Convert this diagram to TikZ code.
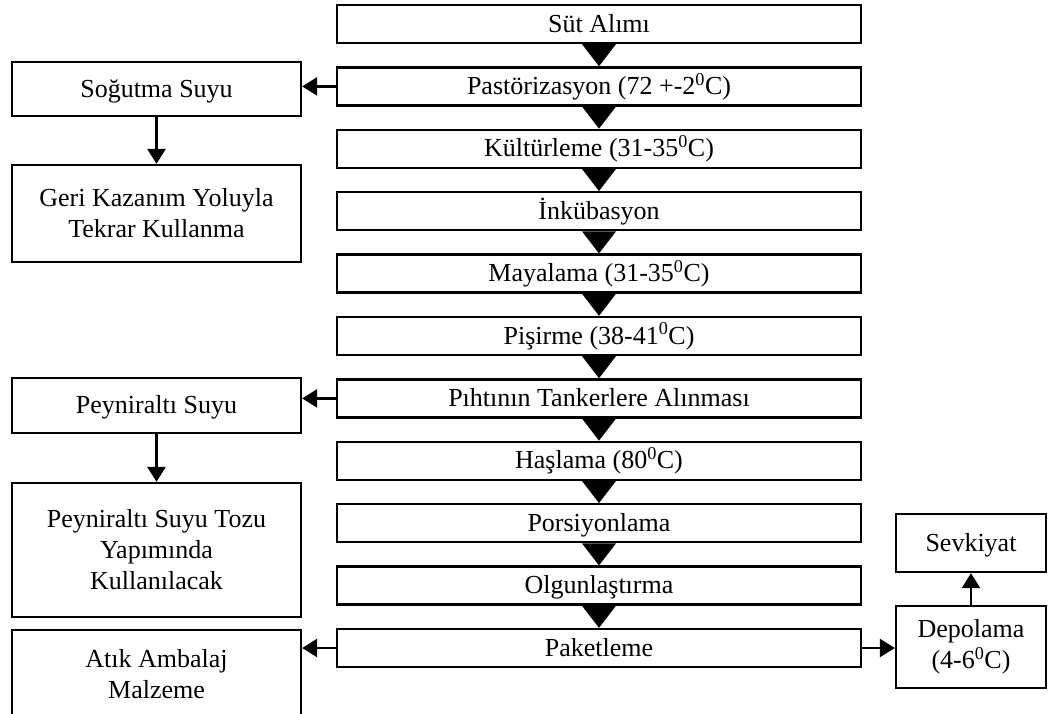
\documentclass[tikz,border=0pt]{standalone}
\usepackage{fontspec}
\setmainfont{Liberation Serif}
\usetikzlibrary{arrows.meta,calc}
\newcommand{\akis}[2]{\fill ($(#1.south)+(-17,0)$) -- ($(#1.south)+(17,0)$) -- (#2.north) -- cycle;}

\begin{document}
\begin{tikzpicture}[x=1pt,y=-1pt,font=\fontsize{26}{31}\selectfont,
  b/.style={draw,line width=2.3pt,inner sep=0pt,align=center},
  s/.style={text height=17pt,text depth=1pt},
  m/.style={b,s,minimum width=524pt,minimum height=38pt},
  l/.style={b,minimum width=289pt},
  r/.style={b,minimum width=150pt},
  e/.style={line width=2.6pt,-{Triangle[length=15pt,width=18pt]}}]
  \useasboundingbox (0,0) rectangle (1049,713);
  \clip (0,0) rectangle (1049,713);
  \node[m] (sut) at (599,24) {Süt Alımı};
  \node[m] (pas) at (599,86.4) {Pastörizasyon (72 +-2\textsuperscript{0}C)};
  \node[m] (kul) at (599,148.8) {Kültürleme (31-35\textsuperscript{0}C)};
  \node[m] (ink) at (599,211.2) {İnkübasyon};
  \node[m] (may) at (599,273.6) {Mayalama (31-35\textsuperscript{0}C)};
  \node[m] (pis) at (599,336) {Pişirme (38-41\textsuperscript{0}C)};
  \node[m] (pih) at (599,398.4) {Pıhtının Tankerlere Alınması};
  \node[m] (has) at (599,460.8) {Haşlama (80\textsuperscript{0}C)};
  \node[m] (por) at (599,523.2) {Porsiyonlama};
  \node[m] (olg) at (599,585.6) {Olgunlaştırma};
  \node[m] (pak) at (599,648) {Paketleme};
  \node[l,s,minimum height=54pt] (sog) at (156.5,89) {Soğutma Suyu};
  \node[l,minimum height=97pt] (geri) at (156.5,213.5) {Geri Kazanım Yoluyla\\Tekrar Kullanma};
  \node[l,s,minimum height=55pt] (pey) at (156.5,405.5) {Peyniraltı Suyu};
  \node[l,minimum height=134pt] (toz) at (156.5,550) {Peyniraltı Suyu Tozu\\Yapımında\\Kullanılacak};
  \node[l,minimum height=88pt] (atik) at (156.5,674) {Atık Ambalaj\\Malzeme};
  \node[r,s,minimum height=58pt] (sev) at (971,543) {Sevkiyat};
  \node[r,minimum height=82pt] (dep) at (971,647) {Depolama\\(4-6\textsuperscript{0}C)};
  \akis{sut}{pas}
  \akis{pas}{kul}
  \akis{kul}{ink}
  \akis{ink}{may}
  \akis{may}{pis}
  \akis{pis}{pih}
  \akis{pih}{has}
  \akis{has}{por}
  \akis{por}{olg}
  \akis{olg}{pak}
  \draw[e] (pas.west) -- (pas.west -| sog.east);
  \draw[e] (pih.west) -- (pih.west -| pey.east);
  \draw[e] (pak.west) -- (pak.west -| atik.east);
  \draw[e] (pak.east) -- (pak.east -| dep.west);
  \draw[e] (sog) -- (geri);
  \draw[e] (pey) -- (toz);
  \draw[e] (dep) -- (sev);
\end{tikzpicture}
\end{document}
